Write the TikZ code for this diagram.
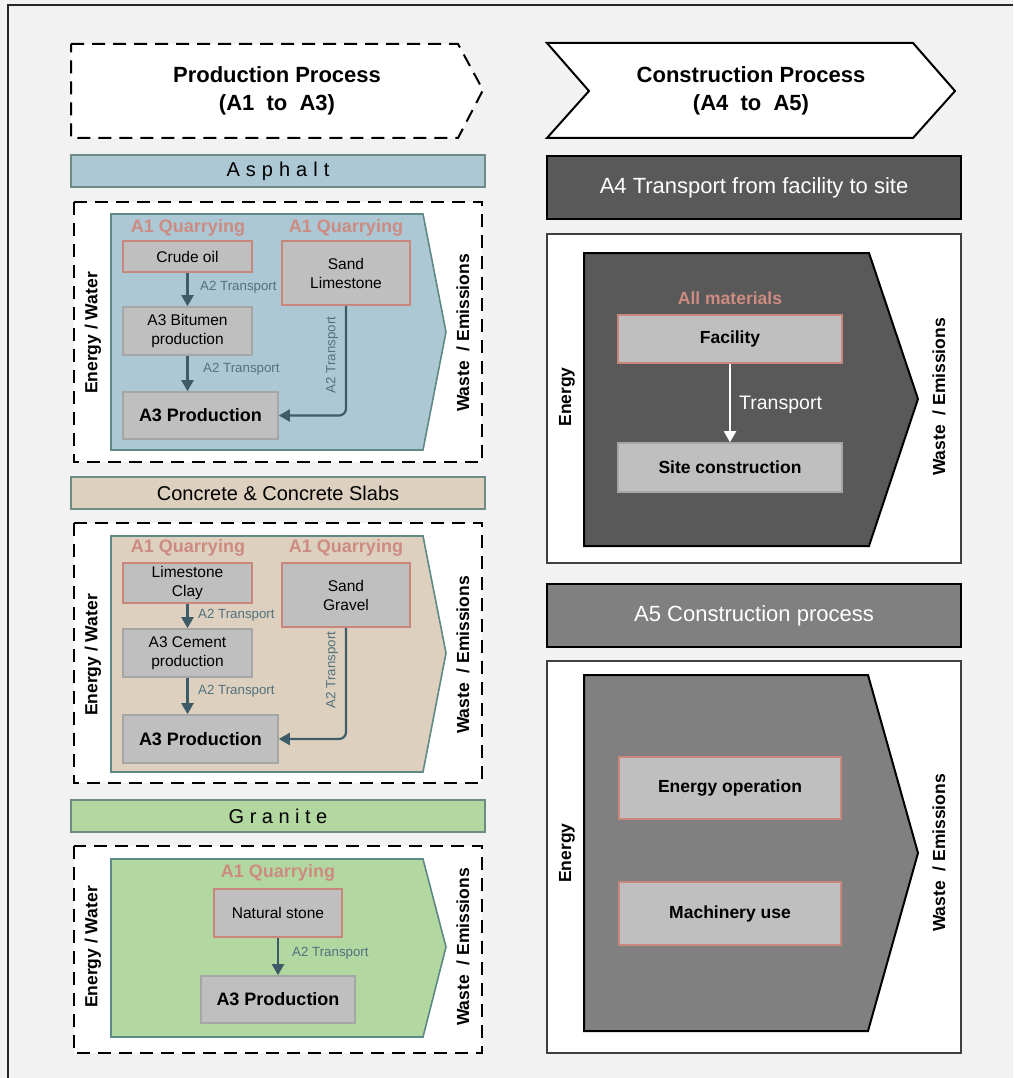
\documentclass[tikz,border=0pt]{standalone}
\usepackage{fontspec}
\setmainfont{Liberation Sans}
\usetikzlibrary{arrows.meta}

\definecolor{pagebg}{HTML}{F2F2F2}
\definecolor{asphblue}{HTML}{ABC8D4}
\definecolor{tealedge}{HTML}{5F8984}
\definecolor{baredge}{HTML}{6E8C85}
\definecolor{beige}{HTML}{DDD0BF}
\definecolor{stonegreen}{HTML}{B3D7A1}
\definecolor{boxgray}{HTML}{BFBFBF}
\definecolor{pinkedge}{HTML}{C9877C}
\definecolor{pinktext}{HTML}{CD8B82}
\definecolor{grayedge}{HTML}{A6A6A6}
\definecolor{arrowcol}{HTML}{3D5C68}
\definecolor{transtext}{HTML}{52727E}
\definecolor{darkfill}{HTML}{595959}
\definecolor{midfill}{HTML}{808080}
\definecolor{frameedge}{HTML}{404040}

\newcommand{\fs}[2]{\fontsize{#1}{#2}\selectfont}

\tikzset{
  dashbox/.style={draw=black, line width=2pt, dash pattern=on 13pt off 8pt},
  whitebox/.style={draw=frameedge, line width=2pt, fill=white},
  flowshape/.style={line width=1.6pt},
  bar/.style={draw=baredge, line width=2pt, minimum width=414pt, minimum height=32pt,
    inner sep=0pt, font=\fs{20}{24}},
  darkbar/.style={draw=black, line width=2pt, minimum width=414pt, minimum height=63pt,
    inner sep=0pt, text=white, font=\fs{22}{26}},
  stagebox/.style={draw=pinkedge, fill=boxgray, line width=1.6pt, inner sep=0pt,
    align=center, font=\fs{15.5}{19}},
  stepgray/.style={stagebox, draw=grayedge},
  prodbox/.style={stepgray, font=\bfseries\fs{18}{22}},
  bigbox/.style={stagebox, font=\bfseries\fs{17.5}{21}},
  quarry/.style={text=pinktext, font=\bfseries\fs{18}{22}},
  sidelabel/.style={rotate=90, font=\bfseries\fs{17.5}{21}},
  translabel/.style={text=transtext, font=\fs{13.3}{16}, inner sep=0pt},
  flowarrow/.style={draw=arrowcol, line width=2.2pt, -{Triangle[length=11pt,width=12pt]}},
  title/.style={align=center, font=\bfseries\fs{22}{28}}
}

\begin{document}
\begin{tikzpicture}[x=1pt, y=-1pt]
\useasboundingbox (0,0) rectangle (1013,1078);
\fill[pagebg] (0,0) rectangle (1013,1078);
\draw[line width=1.8pt, draw=black!85] (8,1078) -- (8,5) -- (1013,5);

% ---------- Left column: production stages ----------
\draw[dashbox, fill=white] (71,44) -- (458,44) -- (483,90) -- (458,138) -- (71,138) -- cycle;
\node[title] (prodtitle) at (277,91) {Production Process\\(A1\ \ to\ \ A3)};

% Asphalt
\node[bar, fill=asphblue] (asphbar) at (278,171)
  {A\hspace{6pt}s\hspace{6pt}p\hspace{6pt}h\hspace{6pt}a\hspace{6pt}l\hspace{6pt}t};
\draw[dashbox, fill=white] (74,202) rectangle (482,462);
\draw[flowshape, draw=tealedge, fill=asphblue] (111,214) -- (423,214) -- (446,332) -- (423,450) -- (111,450) -- cycle;
\node[sidelabel] (aew) at (93,333) {Energy / Water};
\node[sidelabel] (awe) at (463,333) {Waste\ \ / Emissions};
\node[quarry] (aq1) at (188,228) {A1 Quarrying};
\node[quarry] (aq2) at (346,228) {A1 Quarrying};
\node[stagebox, minimum width=129pt, minimum height=31pt] (crude) at (187.5,256.5) {Crude oil};
\node[stagebox, minimum width=128pt, minimum height=64pt] (sandA) at (346,273) {Sand\\Limestone};
\node[stepgray, minimum width=129pt, minimum height=48pt] (bitumen) at (187.5,331) {A3 Bitumen\\production};
\node[prodbox, minimum width=155pt, minimum height=47pt] (prodA) at (200.5,415.5) {A3 Production};
\draw[flowarrow] (crude) -- (bitumen);
\draw[flowarrow] (bitumen.south) -- (bitumen.south |- prodA.north);
\draw[flowarrow, rounded corners=7pt] (sandA.south) |- (prodA.east);
\node[translabel, anchor=west] (at1) at (200,287) {A2 Transport};
\node[translabel, anchor=west] (at2) at (203,369) {A2 Transport};
\node[translabel, rotate=90] (at3) at (332,355) {A2 Transport};

% Concrete
\node[bar, fill=beige] (concbar) at (278,493) {Concrete \& Concrete Slabs};
\draw[dashbox, fill=white] (74,523) rectangle (482,783);
\draw[flowshape, draw=tealedge, fill=beige] (111,536) -- (423,536) -- (446,653) -- (423,772) -- (111,772) -- cycle;
\node[sidelabel] (cew) at (93,655) {Energy / Water};
\node[sidelabel] (cwe) at (463,655) {Waste\ \ / Emissions};
\node[quarry] (cq1) at (188,548) {A1 Quarrying};
\node[quarry] (cq2) at (346,548) {A1 Quarrying};
\node[stagebox, minimum width=129pt, minimum height=40pt, font=\fs{15.5}{19.5}] (lime) at (187.5,583) {Limestone\\Clay};
\node[stagebox, minimum width=128pt, minimum height=64pt] (sandC) at (346,595) {Sand\\Gravel};
\node[stepgray, minimum width=129pt, minimum height=48pt] (cement) at (187.5,653) {A3 Cement\\production};
\node[prodbox, minimum width=155pt, minimum height=48pt] (prodC) at (200.5,739) {A3 Production};
\draw[flowarrow] (lime) -- (cement);
\draw[flowarrow] (cement.south) -- (cement.south |- prodC.north);
\draw[flowarrow, rounded corners=7pt] (sandC.south) |- (prodC.east);
\node[translabel, anchor=west] (ct1) at (198,615) {A2 Transport};
\node[translabel, anchor=west] (ct2) at (198,691) {A2 Transport};
\node[translabel, rotate=90] (ct3) at (332,670) {A2 Transport};

% Granite
\node[bar, fill=stonegreen] (granbar) at (278,816)
  {G\hspace{5.5pt}r\hspace{5.5pt}a\hspace{5.5pt}n\hspace{5.5pt}i\hspace{5.5pt}t\hspace{5.5pt}e};
\draw[dashbox, fill=white] (74,846) rectangle (482,1053);
\draw[flowshape, draw=tealedge, fill=stonegreen] (111,859) -- (423,859) -- (446,947) -- (423,1037) -- (111,1037) -- cycle;
\node[sidelabel] (gew) at (93,947) {Energy / Water};
\node[sidelabel] (gwe) at (463,947) {Waste\ \ / Emissions};
\node[quarry] (gq) at (278,873) {A1 Quarrying};
\node[stagebox, minimum width=128pt, minimum height=48pt] (stone) at (278,913) {Natural stone};
\node[prodbox, minimum width=154pt, minimum height=47pt] (prodG) at (278,999.5) {A3 Production};
\draw[flowarrow] (stone) -- (prodG);
\node[translabel, anchor=west] (gt1) at (292,953) {A2 Transport};

% ---------- Right column: construction stages ----------
\draw[line width=2pt, fill=white] (547,43) -- (913,43) -- (955,91) -- (913,138) -- (547,138) -- (589,91) -- cycle;
\node[title] (constitle) at (751,91) {Construction Process\\(A4\ \ to\ \ A5)};

% A4 transport
\node[darkbar, fill=darkfill] (a4bar) at (754,187.5) {A4 Transport from facility to site};
\draw[whitebox] (547,234) rectangle (961,563);
\draw[line width=2pt, fill=darkfill] (584,253) -- (869,253) -- (918,399) -- (869,546) -- (584,546) -- cycle;
\node[sidelabel] (a4en) at (567,397) {Energy};
\node[sidelabel] (a4we) at (939,397) {Waste\ \ / Emissions};
\node[quarry, font=\bfseries\fs{17.5}{21}] (allmat) at (730,298) {All materials};
\node[bigbox, minimum width=224pt, minimum height=48pt] (facility) at (730,339) {Facility};
\node[bigbox, draw=grayedge, minimum width=224pt, minimum height=49pt] (site) at (730,467.5) {Site construction};
\draw[draw=white, line width=2pt, -{Triangle[length=11pt,width=12pt]}] (facility) -- (site);
\node[text=white, font=\fs{19.5}{23}, anchor=west, inner sep=0pt] (a4tr) at (739,405) {Transport};

% A5 construction
\node[darkbar, fill=midfill] (a5bar) at (754,615.5) {A5 Construction process};
\draw[whitebox] (547,661) rectangle (961,1053);
\draw[line width=2pt, fill=midfill] (584,675) -- (868,675) -- (918,853) -- (868,1031) -- (584,1031) -- cycle;
\node[sidelabel] (a5en) at (567,853) {Energy};
\node[sidelabel] (a5we) at (939,853) {Waste\ \ / Emissions};
\node[bigbox, minimum width=222pt, minimum height=62pt] (energyop) at (730,788) {Energy operation};
\node[bigbox, minimum width=222pt, minimum height=63pt] (machine) at (730,913.5) {Machinery use};
\end{tikzpicture}
\end{document}
